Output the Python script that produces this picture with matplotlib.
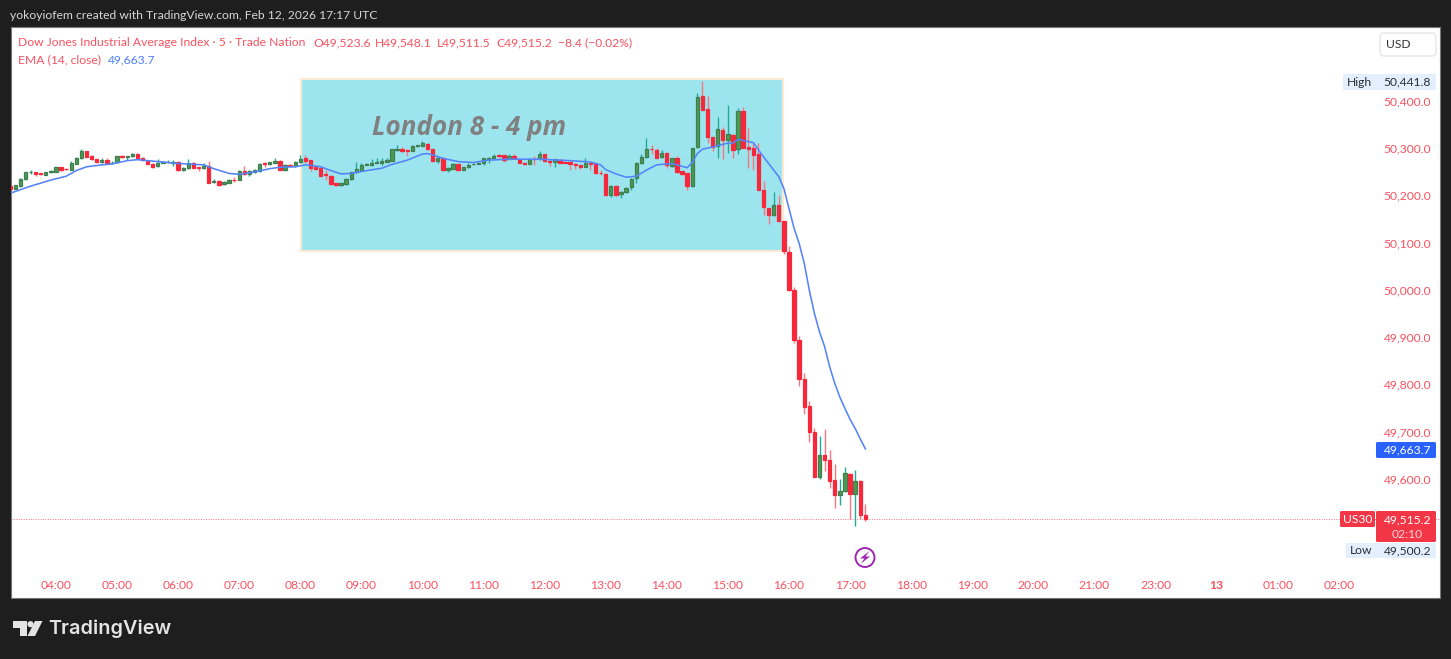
import numpy as np
import matplotlib
matplotlib.use("Agg")
import matplotlib.pyplot as plt
from matplotlib.patches import Rectangle, FancyBboxPatch, Polygon, Circle

plt.rcParams['font.family'] = ['Lato', 'DejaVu Sans']

# 5 minute candles, first one is 03:15
opens = [
    50219, 50214, 50219, 50234, 50248, 50248, 50246, 50243, 50248, 50250,
    50259, 50256, 50254, 50266, 50278, 50293, 50283, 50276, 50270, 50275,
    50268, 50270, 50283, 50281, 50282, 50288, 50279, 50273, 50266, 50261,
    50269, 50270, 50269, 50271, 50253, 50257, 50269, 50259, 50257, 50262,
    50227, 50230, 50223, 50226, 50233, 50233, 50252, 50245, 50248, 50252,
    50267, 50265, 50269, 50273, 50254, 50264, 50261, 50270, 50278, 50274,
    50259, 50258, 50245, 50241, 50225, 50221, 50224, 50234, 50248, 50254,
    50264, 50263, 50268, 50269, 50271, 50273, 50296, 50298, 50296, 50294,
    50304, 50304, 50309, 50297, 50273, 50278, 50253, 50256, 50265, 50254,
    50259, 50265, 50266, 50267, 50277, 50279, 50284, 50284, 50277, 50283,
    50277, 50269, 50266, 50277, 50276, 50286, 50273, 50270, 50274, 50270,
    50271, 50266, 50263, 50260, 50269, 50268, 50247, 50245, 50200, 50220,
    50202, 50206, 50218, 50236, 50267, 50280, 50298, 50296, 50280, 50290,
    50262, 50278, 50251, 50246, 50219, 50301, 50409, 50382, 50323, 50304,
    50338, 50316, 50328, 50297, 50377, 50301, 50299, 50286, 50210, 50172,
    50158, 50179, 50145, 50080, 49999, 49894, 49812, 49755, 49699, 49605,
    49651, 49641, 49598, 49567, 49574, 49611, 49568, 49596, 49523.6,
]
highs = [
    50220, 50222, 50236, 50250, 50253, 50249, 50247, 50250, 50253, 50260,
    50260, 50257, 50273, 50280, 50297, 50294, 50284, 50277, 50278, 50278,
    50273, 50283, 50284, 50282, 50290, 50289, 50280, 50274, 50267, 50276,
    50272, 50275, 50275, 50272, 50259, 50276, 50270, 50259, 50267, 50273,
    50235, 50233, 50229, 50234, 50239, 50253, 50262, 50254, 50255, 50267,
    50271, 50271, 50278, 50274, 50265, 50265, 50272, 50285, 50285, 50275,
    50262, 50259, 50253, 50242, 50226, 50226, 50236, 50250, 50271, 50269,
    50267, 50276, 50279, 50278, 50278, 50298, 50306, 50301, 50297, 50305,
    50306, 50315, 50310, 50298, 50281, 50279, 50259, 50267, 50266, 50260,
    50268, 50267, 50269, 50279, 50281, 50288, 50288, 50285, 50287, 50286,
    50278, 50270, 50278, 50283, 50293, 50287, 50274, 50277, 50276, 50271,
    50272, 50267, 50264, 50278, 50270, 50269, 50254, 50246, 50221, 50221,
    50208, 50217, 50236, 50270, 50288, 50320, 50305, 50299, 50295, 50291,
    50279, 50283, 50252, 50247, 50300, 50417, 50441.8, 50410, 50324, 50366,
    50345, 50390, 50329, 50385, 50387, 50341, 50310, 50310, 50230, 50173,
    50206, 50200, 50146, 50093, 50006, 49902, 49823, 49764, 49707, 49691,
    49705, 49661, 49632, 49600, 49625, 49612, 49619, 49597, 49548.1,
]
lows = [
    50212, 50212, 50218, 50233, 50244, 50241, 50243, 50242, 50247, 50248,
    50252, 50254, 50253, 50265, 50277, 50280, 50274, 50269, 50269, 50267,
    50265, 50269, 50279, 50274, 50281, 50277, 50273, 50265, 50258, 50260,
    50268, 50267, 50261, 50252, 50252, 50256, 50257, 50252, 50256, 50225,
    50225, 50219, 50221, 50225, 50228, 50232, 50242, 50240, 50247, 50250,
    50260, 50264, 50268, 50253, 50252, 50261, 50260, 50269, 50267, 50252,
    50255, 50240, 50233, 50221, 50220, 50220, 50222, 50233, 50247, 50253,
    50263, 50262, 50267, 50264, 50270, 50272, 50294, 50292, 50283, 50293,
    50301, 50303, 50296, 50270, 50269, 50252, 50249, 50255, 50252, 50253,
    50258, 50264, 50265, 50264, 50267, 50278, 50279, 50271, 50276, 50277,
    50268, 50264, 50265, 50264, 50275, 50271, 50261, 50259, 50267, 50268,
    50254, 50255, 50256, 50259, 50254, 50245, 50242, 50199, 50197, 50199,
    50195, 50205, 50211, 50225, 50266, 50279, 50288, 50278, 50279, 50258,
    50259, 50247, 50243, 50211, 50218, 50300, 50379, 50310, 50293, 50278,
    50276, 50290, 50278, 50288, 50299, 50257, 50253, 50210, 50159, 50138,
    50157, 50144, 50075, 49998, 49888, 49796, 49737, 49679, 49604, 49600,
    49617, 49580, 49539, 49545, 49573, 49515, 49500.2, 49515, 49511.5,
]
closes = [
    50214, 50221, 50235, 50249, 50249, 50245, 50244, 50249, 50252, 50259,
    50254, 50255, 50267, 50279, 50294, 50281, 50276, 50270, 50275, 50268,
    50269, 50282, 50280, 50282, 50288, 50278, 50274, 50266, 50260, 50269,
    50271, 50271, 50271, 50253, 50258, 50269, 50258, 50257, 50262, 50226,
    50229, 50222, 50228, 50233, 50231, 50252, 50245, 50252, 50254, 50266,
    50266, 50270, 50273, 50254, 50264, 50262, 50271, 50277, 50273, 50258,
    50256, 50241, 50243, 50224, 50221, 50225, 50235, 50249, 50256, 50264,
    50265, 50268, 50270, 50273, 50274, 50297, 50298, 50293, 50294, 50304,
    50305, 50310, 50297, 50272, 50278, 50253, 50258, 50266, 50254, 50259,
    50264, 50266, 50267, 50278, 50278, 50283, 50283, 50274, 50283, 50278,
    50269, 50266, 50277, 50276, 50286, 50272, 50271, 50276, 50268, 50269,
    50265, 50263, 50260, 50269, 50265, 50246, 50246, 50200, 50220, 50200,
    50207, 50216, 50235, 50269, 50281, 50297, 50297, 50279, 50289, 50264,
    50278, 50248, 50244, 50219, 50299, 50407, 50380, 50322, 50302, 50340,
    50317, 50330, 50295, 50377, 50300, 50298, 50285, 50211, 50174, 50158,
    50179, 50145, 50081, 49999, 49894, 49811, 49753, 49699, 49605, 49651,
    49641, 49596, 49567, 49574, 49612, 49569, 49596, 49523.6, 49515.2,
]

# EMA at these candles
ema_bars = [
    0, 4, 8, 11, 13, 15, 18, 20, 23, 25, 28, 33, 38, 40, 43, 45, 48, 51, 53, 56,
    58, 59, 61, 63, 65, 67, 69, 73, 75, 78, 81, 82, 83, 85, 88, 91, 94, 98, 104,
    110, 114, 116, 117, 119, 121, 123, 125, 127, 130, 133, 134, 135, 136, 138,
    141, 142, 143, 146, 148, 150, 151, 152, 153, 154, 155, 156, 157, 158, 159,
    160, 161, 162, 163, 164, 165, 166, 167, 168,
]
ema_values = [
    50204, 50219, 50232, 50240, 50252, 50260, 50264, 50266, 50273, 50275, 50272,
    50267, 50264, 50256, 50246, 50244, 50249, 50256, 50259, 50260, 50264, 50263,
    50260, 50252, 50245, 50246, 50250, 50257, 50265, 50274, 50287, 50288, 50285,
    50278, 50271, 50269, 50274, 50276, 50276, 50273, 50270, 50264, 50254, 50245,
    50238, 50240, 50253, 50264, 50267, 50258, 50269, 50288, 50297, 50302, 50310,
    50310, 50318, 50311, 50281, 50253, 50239, 50214, 50172, 50130, 50098, 50056,
    49999, 49950, 49911, 49880, 49837, 49802, 49773, 49749, 49726, 49707, 49685,
    49663.7,
]

price_ticks = [50400, 50300, 50200, 50100, 50000, 49900, 49800, 49700, 49600]
hour_labels = ["04:00", "05:00", "06:00", "07:00", "08:00", "09:00", "10:00",
               "11:00", "12:00", "13:00", "14:00", "15:00", "16:00", "17:00",
               "18:00", "19:00", "20:00", "21:00", "23:00", "13", "01:00", "02:00"]
first_hour_bar = 9
bars_per_hour = 12

last_price = closes[-1]
session_start, session_end = 57.13, 151.8   # bars
session_high, session_low = 50445.5, 50081.9

RED = '#f23645'
TEXT_RED = '#f7525f'
BG = '#1e1e1e'
FS = 8.75

fig = plt.figure(figsize=(14.51, 6.59), dpi=100, facecolor=BG)
W, H = 1451, 659

# chart area 11..1440 x 27..598 px
ax = fig.add_axes([11 / W, 1 - 598 / H, 1429 / W, 571 / H], facecolor='white')
for s in ax.spines.values():
    s.set_color('#777777')
    s.set_linewidth(0.8)

bars = np.arange(len(closes))
o = np.array(opens)
h = np.array(highs)
l = np.array(lows)
c = np.array(closes)
up = c >= o

ax.add_patch(Rectangle((session_start, session_low), session_end - session_start,
                       session_high - session_low, facecolor='#9ce5ee',
                       edgecolor='#fbe9d2', linewidth=1.5, zorder=1))

# wicks then bodies
ax.vlines(bars[up], l[up], h[up], color='#22ab94', linewidth=1, zorder=2)
ax.vlines(bars[~up], l[~up], h[~up], color='#f7767f', linewidth=1, zorder=2)
ax.bar(bars[up], (c - o)[up], bottom=o[up], width=0.66, color='#4c9c4f',
       edgecolor='#3f7d52', linewidth=0.9, zorder=3)
ax.bar(bars[~up], (c - o)[~up], bottom=o[~up], width=0.66, color='#f7283c',
       edgecolor='#f7283c', linewidth=0.9, zorder=3)
ax.plot(ema_bars, ema_values, color='#5584fa', linewidth=1.15, zorder=4)
ax.axhline(last_price, color='#f7767f', linewidth=0.7, linestyle=(0, (1, 1.5)), zorder=1)

ax.set_xlim(0.16, 280.9)
ax.set_ylim(49348.4, 50555.5)

ax.set_xticks([first_hour_bar + bars_per_hour * k for k in range(len(hour_labels))])
ax.set_xticklabels(hour_labels)
ax.set_yticks(price_ticks)
ax.set_yticklabels([f"{p:,.1f}" for p in price_ticks])
ax.yaxis.tick_right()
ax.tick_params(axis='x', length=0, pad=-13.3, labelsize=FS, labelcolor=TEXT_RED)
ax.tick_params(axis='y', length=0, pad=-40.5, labelsize=FS, labelcolor=TEXT_RED)
for lab in ax.get_xticklabels():
    if lab.get_text() == "13":
        lab.set_fontweight('bold')

ax.text(90.1, 50342, "London 8 - 4 pm", color='#808080',
        fontsize=18.7, fontweight='bold', fontstyle='italic', ha='center', va='center',
        family='Open Sans', zorder=5)

# overlay in pixels for the header, legend and scale tags
ov = fig.add_axes([0, 0, 1, 1], facecolor='none')
ov.set_xlim(0, W)
ov.set_ylim(H, 0)
ov.axis('off')

ov.text(10, 15.5, "yokoyiofem created with TradingView.com, Feb 12, 2026 17:17 UTC",
        color='#d6d6d6', fontsize=FS, va='center')
ov.text(18.5, 43, "Dow Jones Industrial Average Index · 5 · Trade Nation", color=TEXT_RED,
        fontsize=FS, va='center')
for x, s in [(313.5, "O49,523.6"), (374.6, "H49,548.1"), (437, "L49,511.5"), (496.6, "C49,515.2"),
             (557.6, "−8.4 (−0.02%)")]:
    ov.text(x, 43, s, color=TEXT_RED, fontsize=FS, va='center')
ov.text(18.5, 59.5, "EMA (14, close)", color=TEXT_RED, fontsize=FS, va='center')
ov.text(108, 59.5, "49,663.7", color='#4d7ffb', fontsize=FS, va='center')

# USD button
ov.add_patch(FancyBboxPatch((1380, 33), 56, 23, boxstyle="round,pad=0,rounding_size=4",
                            facecolor='white', edgecolor='#e6e6e6', linewidth=1))
ov.text(1398.5, 44, "USD", color='#333333', fontsize=FS, ha='center', va='center')

# high / low tags
ov.add_patch(Rectangle((1343, 74), 33.5, 16, facecolor='#e3effd', edgecolor='none'))
ov.add_patch(Rectangle((1377, 74), 59, 16, facecolor='#e3effd', edgecolor='none'))
ov.text(1359.5, 82, "High", color='#2a2e39', fontsize=FS, ha='center', va='center')
ov.text(1407.5, 82, "50,441.8", color='#2a2e39', fontsize=FS, ha='center', va='center')
ov.add_patch(Rectangle((1346, 543), 30.5, 15, facecolor='#e3effd', edgecolor='none'))
ov.add_patch(Rectangle((1377, 543), 59, 15, facecolor='#e3effd', edgecolor='none'))
ov.text(1361, 550.5, "Low", color='#2a2e39', fontsize=FS, ha='center', va='center')
ov.text(1407.5, 550.5, "49,500.2", color='#2a2e39', fontsize=FS, ha='center', va='center')

# EMA and last price tags
ov.add_patch(FancyBboxPatch((1376, 442), 60, 16, boxstyle="round,pad=0,rounding_size=1.5",
                            facecolor='#2962ff', edgecolor='none'))
ov.text(1407.5, 450, "49,663.7", color='white', fontsize=FS, ha='center', va='center')
ov.add_patch(FancyBboxPatch((1340, 511), 35, 16, boxstyle="round,pad=0,rounding_size=1.5",
                            facecolor=RED, edgecolor='none'))
ov.text(1357.5, 519.5, "US30", color='white', fontsize=FS, ha='center', va='center')
ov.add_patch(FancyBboxPatch((1376, 511), 60, 31, boxstyle="round,pad=0,rounding_size=1.5",
                            facecolor=RED, edgecolor='none'))
ov.text(1407.5, 519.5, f"{last_price:,.1f}", color='white', fontsize=FS, ha='center', va='center')
ov.text(1407.5, 534, "02:10", color='#fbd5d8', fontsize=FS, ha='center', va='center')

# lightning marker under the last bar
ov.add_patch(Circle((865, 557.5), 9.5, facecolor='white', edgecolor='#9c27b0', linewidth=1.4))
ov.add_patch(Polygon([(869.5, 551), (860, 558.5), (864.5, 558.5), (860.5, 564), (870, 556.5),
                      (865.5, 556.5)], closed=True, facecolor='#9c27b0', edgecolor='none'))

# logo
logo = '#e4e4e4'
ov.add_patch(Polygon([(12.5, 621), (27, 621), (27, 636), (20, 636), (20, 627.5), (12.5, 627.5)],
                     closed=True, facecolor=logo, edgecolor='none'))
ov.add_patch(Circle((30.5, 624.2), 3.1, facecolor=logo, edgecolor='none'))
ov.add_patch(Polygon([(35, 621), (42.5, 621), (35, 636), (27.5, 636)], closed=True,
                     facecolor=logo, edgecolor='none'))
ov.text(48, 628.5, "TradingView", color=logo, fontsize=14.3, fontweight='semibold', va='center',
        family='Inter')

fig.savefig("out.png", dpi=100, facecolor=BG)
